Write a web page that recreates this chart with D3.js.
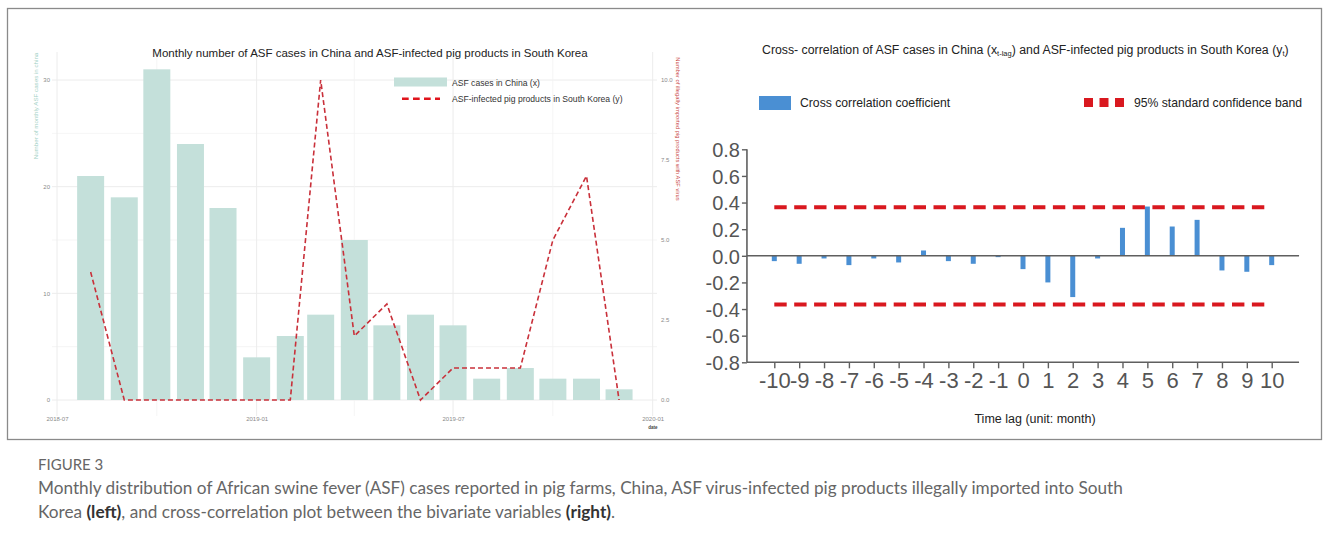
<!DOCTYPE html>
<html>
<head>
<meta charset="utf-8">
<script src="https://cdn.jsdelivr.net/npm/d3@7"></script>
<style>
  body { margin: 0; background: #fff; }
  svg { display: block; }
</style>
</head>
<body>
<svg id="fig" width="1329" height="543"></svg>
<script>
// ---- data: left panel (monthly, first of month) ----
const months = ['2018-08','2018-09','2018-10','2018-11','2018-12','2019-01','2019-02','2019-03',
  '2019-04','2019-05','2019-06','2019-07','2019-08','2019-09','2019-10','2019-11','2019-12'];
const chinaCases = [21, 19, 31, 24, 18, 4, 6, 8, 15, 7, 8, 7, 2, 3, 2, 2, 1];
const koreaProducts = [4, 0, 0, 0, 0, 0, 0, 10, 2, 3, 0, 1, 1, 1, 5, 7, 0];
const leftTicks = [0, 10, 20, 30];
const rightTicks = [0, 2.5, 5, 7.5, 10];
const dateTicks = ['2018-07', '2019-01', '2019-07', '2020-01'];
const dateMinor = ['2018-10', '2019-04', '2019-10'];

// ---- data: right panel (cross-correlation) ----
const lags = d3.range(-10, 11);
const ccf = [-0.04, -0.06, -0.02, -0.07, -0.02, -0.05, 0.04, -0.04, -0.06, -0.01,
  -0.1, -0.2, -0.31, -0.02, 0.21, 0.37, 0.22, 0.27, -0.11, -0.12, -0.07];
const band = 0.365;
const ccfTicks = [-0.8, -0.6, -0.4, -0.2, 0, 0.2, 0.4, 0.6, 0.8];

const svg = d3.select('#fig');
const parse = d3.timeParse('%Y-%m');

// frame
svg.append('rect')
  .attr('x', 7.5).attr('y', 8.5).attr('width', 1314).attr('height', 431)
  .attr('fill', 'none').attr('stroke', '#8a8a8a').attr('stroke-width', 1.3);

//////////////////////////////////////
// Left chart
//////////////////////////////////////
const L = svg.append('g').attr('font-family', 'Liberation Sans, Arial, sans-serif');
const x = d3.scaleTime().domain([parse('2018-07'), parse('2020-01')]).range([57, 652.7]);
const yL = d3.scaleLinear().domain([0, 30]).range([400, 80]);
const yR = d3.scaleLinear().domain([0, 10]).range([400, 80]);
const panel = { x0: 52, x1: 657, y0: 52, y1: 416 };

// grid
[5, 15, 25].forEach(v => {
  L.append('line').attr('x1', panel.x0).attr('x2', panel.x1)
    .attr('y1', yL(v)).attr('y2', yL(v)).attr('stroke', '#f3f3f3').attr('stroke-width', 0.8);
});
leftTicks.forEach(v => {
  L.append('line').attr('x1', panel.x0).attr('x2', panel.x1)
    .attr('y1', yL(v)).attr('y2', yL(v)).attr('stroke', '#ececec').attr('stroke-width', 1);
});
dateMinor.forEach(d => {
  L.append('line').attr('x1', x(parse(d))).attr('x2', x(parse(d)))
    .attr('y1', panel.y0).attr('y2', panel.y1).attr('stroke', '#f3f3f3').attr('stroke-width', 0.8);
});
dateTicks.forEach(d => {
  L.append('line').attr('x1', x(parse(d))).attr('x2', x(parse(d)))
    .attr('y1', panel.y0).attr('y2', panel.y1).attr('stroke', '#ececec').attr('stroke-width', 1);
});

// bars
const barW = 27;
L.selectAll('rect.bar').data(months).enter().append('rect')
  .attr('class', 'bar')
  .attr('x', (d) => x(parse(d)) - barW / 2)
  .attr('width', barW)
  .attr('y', (d, i) => yL(chinaCases[i]))
  .attr('height', (d, i) => yL(0) - yL(chinaCases[i]))
  .attr('fill', '#c4e0da');

// dashed line
const line = d3.line().x((d) => x(parse(d[0]))).y((d) => yR(d[1]));
L.append('path')
  .datum(months.map((m, i) => [m, koreaProducts[i]]))
  .attr('d', line)
  .attr('fill', 'none')
  .attr('stroke', '#c9303a')
  .attr('stroke-width', 1.6)
  .attr('stroke-dasharray', '5,3');

// axes
const axL = L.append('g').attr('transform', 'translate(50,0)')
  .call(d3.axisLeft(yL).tickValues(leftTicks).tickSize(0).tickPadding(0));
const axR = L.append('g').attr('transform', 'translate(660,0)')
  .call(d3.axisRight(yR).tickValues(rightTicks).tickSize(0).tickPadding(1).tickFormat(d3.format('.1f')));
const axB = L.append('g').attr('transform', 'translate(0,417)')
  .call(d3.axisBottom(x).tickValues(dateTicks.map(parse)).tickSize(0).tickPadding(0).tickFormat(d3.timeFormat('%Y-%m')));
[axL, axR, axB].forEach(a => {
  a.select('.domain').remove();
  a.selectAll('text').attr('font-size', 6).attr('fill', '#8a8a8a').attr('font-family', 'Liberation Sans, Arial, sans-serif');
});

L.append('text').text('date').attr('x', 653).attr('y', 429)
  .attr('text-anchor', 'middle').attr('font-size', 4.5).attr('font-weight', 'bold').attr('fill', '#444');

// axis titles
L.append('text').text('Number of monthly ASF cases in china')
  .attr('transform', 'translate(38,106)rotate(-90)')
  .attr('text-anchor', 'middle').attr('font-size', 6.2).attr('fill', '#9fd0c5');
L.append('text').text('Number of illegally imported pig products with ASF virus')
  .attr('transform', 'translate(676,129)rotate(90)')
  .attr('text-anchor', 'middle').attr('font-size', 5.8).attr('fill', '#c8463f');

// title
L.append('text').text('Monthly number of ASF cases in China and ASF-infected pig products in South Korea')
  .attr('x', 370).attr('y', 57).attr('text-anchor', 'middle')
  .attr('font-size', 11.5).attr('fill', '#222');

// legend
L.append('rect').attr('x', 394).attr('y', 77.5).attr('width', 53).attr('height', 9).attr('fill', '#c4e0da');
L.append('text').text('ASF cases in China (x)').attr('x', 452).attr('y', 85.5)
  .attr('font-size', 8.6).attr('fill', '#333');
L.append('line').attr('x1', 402).attr('x2', 440).attr('y1', 98.7).attr('y2', 98.7)
  .attr('stroke', '#e0141c').attr('stroke-width', 2.6).attr('stroke-dasharray', '6.7,4.3');
L.append('text').text('ASF-infected pig products in South Korea (y)').attr('x', 452).attr('y', 101.5)
  .attr('font-size', 8.6).attr('fill', '#333');

//////////////////////////////////////
// Right chart
//////////////////////////////////////
const R = svg.append('g').attr('font-family', 'Liberation Sans, Arial, sans-serif');
const xc = d3.scaleLinear().domain([-10, 10]).range([774.3, 1271.7]);
const yc = d3.scaleLinear().domain([-0.8, 0.8]).range([362.3, 149.3]);
const axisColor = '#5f5f5f';

// bars
const cw = 5;
R.selectAll('rect.ccf').data(lags).enter().append('rect')
  .attr('class', 'ccf')
  .attr('x', (d) => xc(d) - cw / 2)
  .attr('width', cw)
  .attr('y', (d, i) => yc(Math.max(0, ccf[i])))
  .attr('height', (d, i) => Math.abs(yc(ccf[i]) - yc(0)))
  .attr('fill', '#4a8fd3');

// zero line
R.append('line').attr('x1', xc(-11.1)).attr('x2', xc(11.1)).attr('y1', yc(0)).attr('y2', yc(0))
  .attr('stroke', axisColor).attr('stroke-width', 1.6);

// confidence band
[band, -band].forEach(v => {
  R.append('line').attr('x1', xc(-10)).attr('x2', xc(10)).attr('y1', yc(v)).attr('y2', yc(v))
    .attr('stroke', '#d9181f').attr('stroke-width', 4).attr('stroke-dasharray', '12.4,7.5');
});

// axes
const ay = R.append('g').attr('transform', 'translate(' + xc(-11.1) + ',0)')
  .call(d3.axisLeft(yc).tickValues(ccfTicks).tickSize(5).tickPadding(2).tickFormat(d3.format('.1f')));
ay.select('.domain').remove();
ay.selectAll('line').attr('stroke', axisColor).attr('stroke-width', 1.4);
ay.selectAll('text').attr('font-size', 20).attr('fill', '#555').attr('dy', '0.36em')
  .attr('font-family', 'Liberation Sans, Arial, sans-serif').text((d) => d3.format('.1f')(d).replace('−', '-'));
R.append('line').attr('x1', xc(-11.1)).attr('x2', xc(-11.1)).attr('y1', yc(0.8)).attr('y2', yc(-0.8))
  .attr('stroke', axisColor).attr('stroke-width', 1.6);

const ax = R.append('g').attr('transform', 'translate(0,' + yc(-0.8) + ')')
  .call(d3.axisBottom(xc).tickValues(lags).tickSize(6).tickPadding(4).tickFormat((d) => String(d)));
ax.select('.domain').remove();
ax.selectAll('line').attr('stroke', axisColor).attr('stroke-width', 1.4);
ax.selectAll('text').attr('font-size', 22).attr('fill', '#555')
  .attr('font-family', 'Liberation Sans, Arial, sans-serif');
R.append('line').attr('x1', xc(-11.1)).attr('x2', xc(11.1)).attr('y1', yc(-0.8)).attr('y2', yc(-0.8))
  .attr('stroke', axisColor).attr('stroke-width', 1.6);

R.append('text').text('Time lag (unit: month)').attr('x', 1035).attr('y', 423)
  .attr('text-anchor', 'middle').attr('font-size', 12.5).attr('fill', '#222');

// title with subscripts
const t = R.append('text').attr('x', 762).attr('y', 54).attr('font-size', 12.3).attr('fill', '#222');
t.append('tspan').text('Cross- correlation of ASF cases in China (x');
t.append('tspan').text('t-lag').attr('font-size', 7.5).attr('dy', 2);
t.append('tspan').text(') and ASF-infected pig products in South Korea (y').attr('dy', -2);
t.append('tspan').text('t').attr('font-size', 7.5).attr('dy', 2);
t.append('tspan').text(')').attr('dy', -2);

// legend
R.append('rect').attr('x', 759).attr('y', 96).attr('width', 32).attr('height', 14).attr('fill', '#4a8fd3');
R.append('text').text('Cross correlation coefficient').attr('x', 800).attr('y', 107)
  .attr('font-size', 12.2).attr('fill', '#222');
[1084, 1099.5, 1115].forEach(px => {
  R.append('rect').attr('x', px).attr('y', 98).attr('width', 9).attr('height', 9).attr('fill', '#d9181f');
});
R.append('text').text('95% standard confidence band').attr('x', 1134).attr('y', 107)
  .attr('font-size', 12.2).attr('fill', '#222');

//////////////////////////////////////
// Caption
//////////////////////////////////////
const C = svg.append('g').attr('font-family', 'Lato, Open Sans, sans-serif');
C.append('text').text('FIGURE 3').attr('x', 38).attr('y', 470)
  .attr('font-size', 15).attr('fill', '#666');
C.append('text').attr('x', 38).attr('y', 494).attr('font-size', 17.2).attr('fill', '#666')
  .text('Monthly distribution of African swine fever (ASF) cases reported in pig farms, China, ASF virus-infected pig products illegally imported into South');
const c2 = C.append('text').attr('x', 38).attr('y', 517.5).attr('font-size', 17.2).attr('fill', '#666');
c2.append('tspan').text('Korea ');
c2.append('tspan').text('(left)').attr('font-weight', 'bold').attr('fill', '#333');
c2.append('tspan').text(', and cross-correlation plot between the bivariate variables ');
c2.append('tspan').text('(right)').attr('font-weight', 'bold').attr('fill', '#333');
c2.append('tspan').text('.');
</script>
</body>
</html>
